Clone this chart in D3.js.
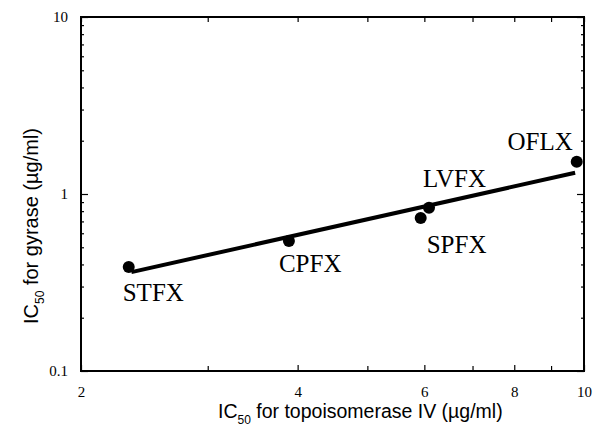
<!DOCTYPE html>
<html>
<head>
<meta charset="utf-8">
<script src="https://cdn.jsdelivr.net/npm/d3@7"></script>
<style>
  body { margin: 0; background: #fff; }
  svg { display: block; }
</style>
</head>
<body>
<div class="chart-holder"></div>
<script>
// values
const drugs = ['STFX', 'CPFX', 'SPFX', 'LVFX', 'OFLX'];
const topoIV = [2.33, 3.89, 5.93, 6.09, 9.77];
const gyrase = [0.387, 0.542, 0.731, 0.837, 1.52];
const fitX = [2.35, 9.72];
const fitY = [0.362, 1.318];
const xMajor = [2, 4, 6, 8, 10];
const xMinor = [3, 5, 7, 9];
const yMajor = [0.1, 1, 10];
const yMinor = [0.2, 0.3, 0.4, 0.5, 0.6, 0.7, 0.8, 0.9, 2, 3, 4, 5, 6, 7, 8, 9];

// label placement next to each dot
const labelPos = {
  STFX: { dx: -6, dy: 34, anchor: 'start' },
  CPFX: { dx: -10, dy: 31, anchor: 'start' },
  SPFX: { dx: 6, dy: 35, anchor: 'start' },
  LVFX: { dx: -6, dy: -21, anchor: 'start' },
  OFLX: { dx: -4, dy: -12, anchor: 'end' }
};

const W = 595, H = 428;
const plot = { left: 81, right: 584, top: 17, bottom: 371 };

const svg = d3.select('.chart-holder').append('svg')
  .attr('width', W)
  .attr('height', H);

const x = d3.scaleLog().domain([2, 10]).range([plot.left, plot.right]);
const y = d3.scaleLog().domain([0.1, 10]).range([plot.bottom, plot.top]);

const serif = '"Liberation Serif", "Times New Roman", serif';
const sans = '"Liberation Sans", Arial, sans-serif';

function styleAxis(g) {
  g.select('.domain').remove();
  g.selectAll('line').attr('stroke', '#000').attr('stroke-width', 1.2);
  g.selectAll('text').attr('font-family', serif).attr('font-size', 15).attr('fill', '#000');
}

// bottom axis with labels
svg.append('g')
  .attr('transform', `translate(0,${plot.bottom})`)
  .call(d3.axisBottom(x).tickValues(xMajor).tickFormat(d3.format('d')).tickSizeInner(-6).tickSizeOuter(0).tickPadding(15))
  .call(styleAxis);
svg.append('g')
  .attr('transform', `translate(0,${plot.bottom})`)
  .call(d3.axisBottom(x).tickValues(xMinor).tickFormat('').tickSizeInner(-5).tickSizeOuter(0))
  .call(styleAxis);
// top axis, ticks only
svg.append('g')
  .attr('transform', `translate(0,${plot.top})`)
  .call(d3.axisTop(x).tickValues(xMajor.concat(xMinor)).tickFormat('').tickSizeInner(-5).tickSizeOuter(0))
  .call(styleAxis);

// left axis with labels
svg.append('g')
  .attr('transform', `translate(${plot.left},0)`)
  .call(d3.axisLeft(y).tickValues(yMajor).tickFormat(d => d < 1 ? d3.format('.1f')(d) : d3.format('d')(d)).tickSizeInner(-7).tickSizeOuter(0).tickPadding(13))
  .call(styleAxis);
svg.append('g')
  .attr('transform', `translate(${plot.left},0)`)
  .call(d3.axisLeft(y).tickValues(yMinor).tickFormat('').tickSizeInner(-3).tickSizeOuter(0))
  .call(styleAxis);
// right axis, ticks only
svg.append('g')
  .attr('transform', `translate(${plot.right},0)`)
  .call(d3.axisRight(y).tickValues(yMajor).tickFormat('').tickSizeInner(-7).tickSizeOuter(0))
  .call(styleAxis);
svg.append('g')
  .attr('transform', `translate(${plot.right},0)`)
  .call(d3.axisRight(y).tickValues(yMinor).tickFormat('').tickSizeInner(-3).tickSizeOuter(0))
  .call(styleAxis);

// frame
svg.append('rect')
  .attr('x', plot.left)
  .attr('y', plot.top)
  .attr('width', plot.right - plot.left)
  .attr('height', plot.bottom - plot.top)
  .attr('fill', 'none')
  .attr('stroke', '#000')
  .attr('stroke-width', 2);

// regression line
const line = d3.line().x(d => x(d[0])).y(d => y(d[1]));
svg.append('path')
  .datum(d3.zip(fitX, fitY))
  .attr('d', line)
  .attr('fill', 'none')
  .attr('stroke', '#000')
  .attr('stroke-width', 4);

// points
const pts = drugs.map((name, i) => ({ name, tx: topoIV[i], gy: gyrase[i] }));
svg.selectAll('circle.pt')
  .data(pts)
  .enter().append('circle')
    .attr('class', 'pt')
    .attr('cx', d => x(d.tx))
    .attr('cy', d => y(d.gy))
    .attr('r', 6)
    .attr('fill', '#000');

svg.selectAll('text.lbl')
  .data(pts)
  .enter().append('text')
    .attr('class', 'lbl')
    .attr('x', d => x(d.tx) + labelPos[d.name].dx)
    .attr('y', d => y(d.gy) + labelPos[d.name].dy)
    .attr('text-anchor', d => labelPos[d.name].anchor)
    .attr('font-family', serif)
    .attr('font-size', 25)
    .text(d => d.name);

// axis titles
const xt = svg.append('text')
  .attr('x', 218)
  .attr('y', 418)
  .attr('font-family', sans)
  .attr('font-size', 19.5);
xt.append('tspan').text('IC');
xt.append('tspan').attr('font-size', 12).attr('dy', 6).text('50');
xt.append('tspan').attr('dy', -6).text(' for topoisomerase IV (µg/ml)');

const yt = svg.append('text')
  .attr('transform', 'translate(38,324) rotate(-90)')
  .attr('font-family', sans)
  .attr('font-size', 20);
yt.append('tspan').text('IC');
yt.append('tspan').attr('font-size', 12).attr('dy', 6).text('50');
yt.append('tspan').attr('dy', -6).text(' for gyrase (µg/ml)');
</script>
</body>
</html>
